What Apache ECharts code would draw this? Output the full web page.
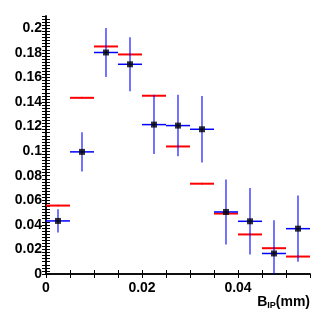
<!DOCTYPE html>
<html>
<head>
<meta charset="utf-8">
<script src="https://cdn.jsdelivr.net/npm/echarts@6/dist/echarts.min.js"></script>
<style>
html, body { margin: 0; padding: 0; background: #fff; }
#main { width: 327px; height: 327px; }
</style>
</head>
<body>
<div id="main"></div>
<script>
// bin centres (bin width 0.005)
var binCenters = [0.0025, 0.0075, 0.0125, 0.0175, 0.0225, 0.0275, 0.0325, 0.0375, 0.0425, 0.0475, 0.0525];
var binHalfWidth = 0.0025;
// data points (black squares, blue errors)
var dataVals = [0.0432, 0.0994, 0.1803, 0.1707, 0.1216, 0.1208, 0.1178, 0.0505, 0.0429, 0.0167, 0.0369];
var dataErrs = [0.0095, 0.016, 0.020, 0.022, 0.024, 0.025, 0.027, 0.0265, 0.027, 0.027, 0.027];
// prediction (red)
var mcVals = [0.0557, 0.1434, 0.1852, 0.1787, 0.1451, 0.1038, 0.0735, 0.0492, 0.0322, 0.0210, 0.0142];
var mcErrs = [0.0008, 0.0008, 0.0008, 0.0008, 0.0008, 0.0008, 0.0008, 0.0008, 0.0008, 0.0008, 0.0008];

var xMin = 0, xMax = 0.055, yMin = 0, yMax = 0.21;
var labelFont = '"Liberation Sans Narrow", "Liberation Sans", Arial, sans-serif';

function makeErrSeries(vals, errs, color, hWidth, vWidth) {
    var rows = [];
    for (var i = 0; i < binCenters.length; i++) {
        rows.push([binCenters[i], vals[i], errs[i]]);
    }
    return {
        type: 'custom',
        data: rows,
        clip: true,
        renderItem: function (params, api) {
            var x = api.value(0), y = api.value(1), e = api.value(2);
            var pL = api.coord([x - binHalfWidth, y]);
            var pR = api.coord([x + binHalfWidth, y]);
            var pT = api.coord([x, y + e]);
            var pB = api.coord([x, Math.max(y - e, yMin)]);
            return {
                type: 'group',
                children: [
                    { type: 'line', shape: { x1: pL[0], y1: pL[1], x2: pR[0], y2: pR[1] }, style: { stroke: color, lineWidth: hWidth } },
                    { type: 'line', shape: { x1: pT[0], y1: pT[1], x2: pB[0], y2: pB[1] }, style: { stroke: color, lineWidth: vWidth } }
                ]
            };
        }
    };
}

function fmt(v) {
    var r = v / 0.02;
    if (Math.abs(r - Math.round(r)) > 1e-6) return '';
    return String(parseFloat(v.toFixed(4)));
}

var chart = echarts.init(document.getElementById('main'));
var axisLine = { show: true, lineStyle: { color: '#000', width: 1.5 } };
var tick = { show: true, inside: true, length: 4, lineStyle: { color: '#000', width: 1 } };

var option = {
    animation: false,
    grid: { left: 46, top: 16, right: 17, bottom: 53, containLabel: false },
    xAxis: [{
        type: 'value', min: xMin, max: xMax, interval: 0.005, position: 'bottom',
        axisLine: axisLine, axisTick: tick, splitLine: { show: false },
        axisLabel: { formatter: fmt, color: '#000', fontFamily: labelFont, fontWeight: 'bold', fontSize: 14, margin: 7, showMaxLabel: false },
        name: '{b|B}{s|IP}{b|(mm)}', nameLocation: 'end', nameGap: 0,
        nameTextStyle: {
            align: 'right', verticalAlign: 'top', padding: [21, 0, 0, 0],
            rich: {
                b: { fontFamily: labelFont, fontWeight: 'bold', fontSize: 14, color: '#000' },
                s: { fontFamily: labelFont, fontWeight: 'bold', fontSize: 9, color: '#000', verticalAlign: 'bottom', padding: [6, 0, 0, 0] }
            }
        }
    }, {
        type: 'value', min: xMin, max: xMax, interval: 0.005, position: 'top',
        axisLine: axisLine, axisTick: tick, splitLine: { show: false }, axisLabel: { show: false }
    }],
    yAxis: [{
        type: 'value', min: yMin, max: yMax, interval: 0.0025, position: 'left',
        axisLine: axisLine, axisTick: tick, splitLine: { show: false },
        axisLabel: { formatter: fmt, color: '#000', fontFamily: labelFont, fontWeight: 'bold', fontSize: 14, margin: 4, showMaxLabel: false }
    }, {
        type: 'value', min: yMin, max: yMax, interval: 0.0025, position: 'right',
        axisLine: axisLine, axisTick: tick, splitLine: { show: false }, axisLabel: { show: false }
    }],
    series: [
        makeErrSeries(mcVals, mcErrs, '#ff0000', 2, 1),
        makeErrSeries(dataVals, dataErrs, '#0000ff', 1.5, 1.1),
        {
            type: 'scatter',
            symbol: 'rect',
            symbolSize: 6,
            itemStyle: { color: '#000' },
            data: binCenters.map(function (x, i) { return [x, dataVals[i]]; }),
            z: 5
        }
    ]
};
chart.setOption(option);
</script>
</body>
</html>
